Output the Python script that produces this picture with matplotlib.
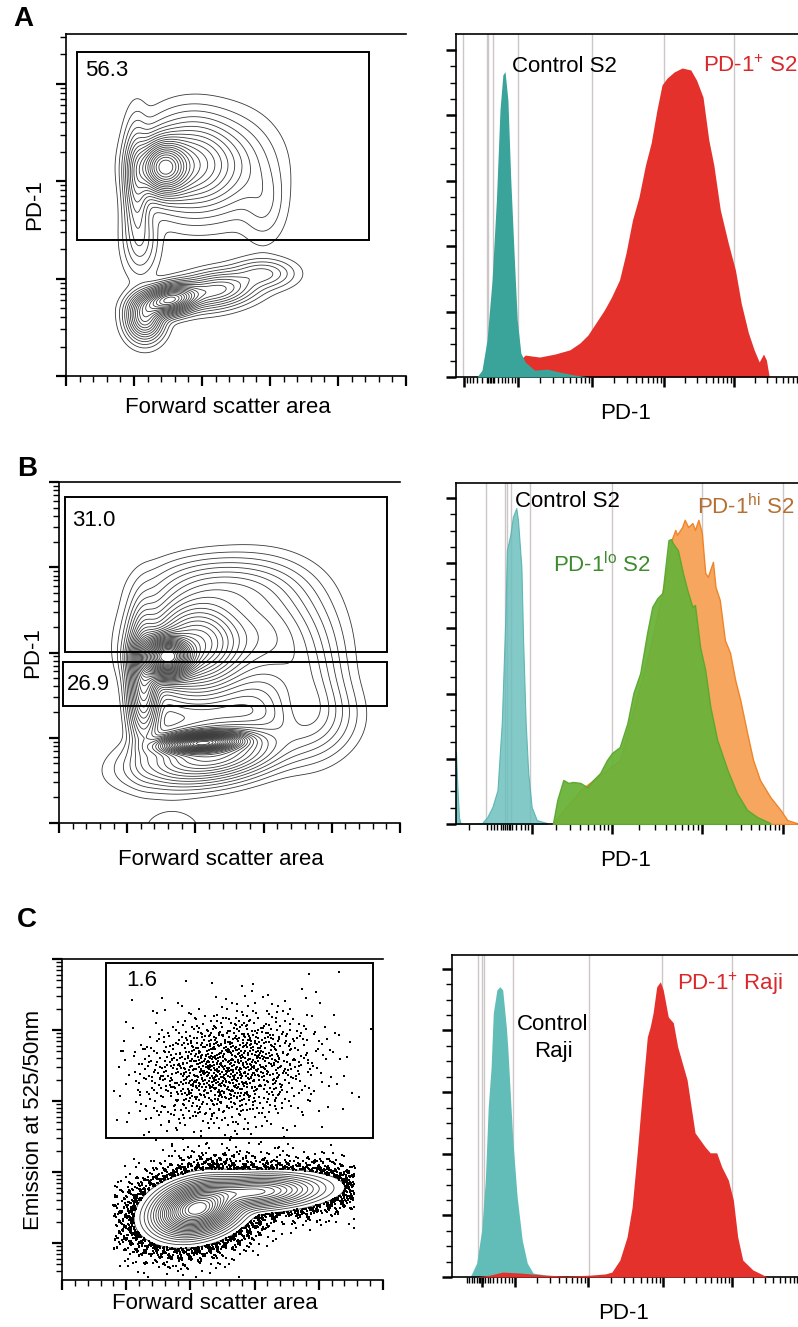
import numpy as np
import matplotlib
matplotlib.use("Agg")
import matplotlib.pyplot as plt
from matplotlib.patches import Rectangle
from matplotlib.ticker import FixedLocator, NullFormatter

plt.rcParams['font.family'] = ['Liberation Sans', 'DejaVu Sans']
plt.rcParams['mathtext.fontset'] = 'custom'
plt.rcParams['mathtext.rm'] = 'Liberation Sans'
plt.rcParams['mathtext.it'] = 'Liberation Sans:italic'
plt.rcParams['mathtext.bf'] = 'Liberation Sans:bold'

# ---------------- histogram data: x = PD-1 (log decades), y = % of max ----------------
a_ctrl_x = [1.43, 1.50, 1.57, 1.64, 1.70, 1.75, 1.79, 1.82, 1.86, 1.90, 1.95, 1.99, 2.04, 2.10,
            2.23, 2.41, 2.58, 2.79, 2.99]
a_ctrl_y = [0, 2.1, 11.3, 29.7, 54.1, 81.7, 92.4, 93.4, 84.7, 60.2, 35.8, 17.4, 7.3, 4.6,
            2.1, 2.4, 1.5, 0.6, 0]
a_pos_x = [2.00, 2.03, 2.10, 2.30, 2.51, 2.72, 2.86, 2.97, 3.09, 3.20, 3.30, 3.41, 3.50, 3.59,
           3.68, 3.77, 3.85, 3.93, 4.00, 4.07, 4.17, 4.28, 4.40, 4.48, 4.57, 4.65, 4.72, 4.81,
           4.92, 5.02, 5.10, 5.20, 5.28, 5.35, 5.41, 5.45, 5.49]
a_pos_y = [0, 5.2, 6.7, 6.1, 7.0, 8.3, 10.4, 12.8, 16.8, 20.5, 24.5, 29.7, 37.9, 48.0,
           55.0, 64.8, 71.6, 81.7, 89.3, 91.4, 93.3, 94.5, 93.9, 90.8, 85.6, 72.5, 64.8, 51.1,
           41.0, 32.7, 22.6, 13.5, 8.3, 4.6, 7.0, 5.2, 0]

b_ctrl_x = [1.175, 1.19, 1.21, 1.23, 1.48, 1.54, 1.60, 1.66, 1.71, 1.75, 1.77, 1.81, 1.84, 1.88,
            1.90, 1.94, 1.96, 1.99, 2.02, 2.06, 2.12, 2.24]
b_ctrl_y = [22.1, 12.0, 2.0, 0, 0.3, 2.1, 5.2, 10.4, 31.0, 61.7, 84.0, 88.7, 94.2, 96.9,
            93.3, 78.8, 56.4, 31.0, 15.6, 5.2, 1.2, 0.3]
b_lo_x = [2.31, 2.36, 2.43, 2.49, 2.54, 2.63, 2.71, 2.78, 2.86, 2.94, 3.00, 3.09, 3.18, 3.25,
          3.33, 3.41, 3.47, 3.53, 3.59, 3.62, 3.66, 3.69, 3.71, 3.77, 3.83, 3.88, 3.94, 3.97,
          4.03, 4.09, 4.15, 4.23, 4.35, 4.46, 4.58, 4.70, 4.85]
b_lo_y = [0.3, 7.4, 13.5, 12.6, 12.9, 12.6, 11.3, 13.5, 15.6, 19.6, 21.8, 23.6, 31.0, 40.2,
          46.3, 58.6, 66.6, 69.3, 70.9, 77.9, 87.1, 87.4, 86.2, 84.0, 76.9, 71.8, 66.6, 67.2,
          54.3, 47.2, 35.9, 25.8, 16.6, 9.5, 4.3, 2.1, 0.3]
b_hi_x = [2.31, 2.63, 3.09, 3.44, 3.62, 3.70, 3.74, 3.76, 3.82, 3.85, 3.89, 3.94, 3.97, 4.01,
          4.05, 4.09, 4.12, 4.18, 4.21, 4.26, 4.32, 4.38, 4.44, 4.50, 4.58, 4.65, 4.73, 4.85,
          4.97, 5.05, 5.16]
b_hi_y = [0.3, 10.4, 19.6, 53.4, 74.8, 87.4, 90.2, 88.7, 91.1, 93.3, 91.1, 92.3, 90.2, 93.3,
          89.3, 77.0, 75.8, 80.4, 72.7, 68.7, 56.4, 52.5, 44.2, 38.0, 27.9, 19.6, 13.5, 8.3,
          4.3, 1.2, 0.3]

c_ctrl_x = [1.38, 1.47, 1.54, 1.59, 1.63, 1.67, 1.70, 1.75, 1.79, 1.83, 1.88, 1.90, 1.93, 1.97,
            2.03, 2.10, 2.17, 2.25, 2.44, 2.72]
c_ctrl_y = [0, 4.5, 15.3, 31.5, 55.2, 68.2, 85.7, 93.2, 94.2, 93.2, 81.2, 74.7, 61.7, 44.5,
            26.0, 12.0, 4.5, 1.3, 0.6, 0.3]
c_pos_x = [1.45, 1.65, 1.83, 2.07, 2.42, 2.72, 3.04, 3.25, 3.34, 3.45, 3.55, 3.62, 3.69, 3.76,
           3.83, 3.87, 3.91, 3.96, 4.01, 4.05, 4.12, 4.19, 4.25, 4.38, 4.49, 4.56, 4.63, 4.70,
           4.79, 4.86, 4.95, 5.02, 5.08, 5.15, 5.29, 5.49]
c_pos_y = [0, 0.6, 1.6, 1.3, 0.6, 0.3, 0.6, 1.0, 1.6, 5.5, 13.0, 22.7, 40.3, 59.7,
           77.9, 81.2, 85.7, 94.2, 95.8, 93.2, 84.4, 82.5, 74.7, 64.0, 46.8, 44.5, 42.2, 40.3,
           40.3, 35.7, 31.5, 25.0, 13.0, 5.5, 2.3, 0]

# tick / gridline positions of the histogram x axes (log decades)
a_major = [1.25, 2.0, 3.03, 4.03, 5.0]
a_logicle = [1.29, 1.33, 1.37, 1.43, 1.50, 1.57, 1.59, 1.61, 1.63, 1.65, 1.67, 1.72, 1.78,
             1.82, 1.86, 1.92, 1.96]
a_grid = [1.24, 1.57, 1.58, 1.65, 2.0, 3.03, 4.03, 5.0]
b_major = [2.06, 3.0, 4.05, 5.0]
b_logicle = [1.33, 1.54, 1.58, 1.62, 1.66, 1.70, 1.73, 1.75, 1.77, 1.79, 1.81, 1.83, 1.88,
             1.93, 1.98, 2.02]
b_grid = [1.53, 1.75, 1.77, 1.82, 2.04, 3.0, 4.05, 5.0]
c_major = [1.54, 2.0, 3.01, 4.05, 5.0]
c_logicle = [1.33, 1.37, 1.41, 1.44, 1.47, 1.50, 1.52, 1.56, 1.58, 1.62, 1.66, 1.70, 1.75,
             1.80, 1.86, 1.92, 1.96]
c_grid = [1.49, 1.54, 1.57, 1.97, 3.02, 4.03, 5.0]

# ---------------- 2D density models ----------------
# (FSC centre [K], log10 signal centre, FSC sd [K], log sd, correlation, weight)
a_pops = [(72, 4.14, 10, 0.15, 0.0, 1.0), (92, 4.17, 17, 0.24, 0.0, 0.35),
          (120, 4.15, 18, 0.26, 0.0, 0.08), (145, 3.78, 9, 0.22, 0.0, 0.03),
          (52, 4.00, 5, 0.30, 0.0, 0.2), (55, 3.40, 7, 0.20, 0.0, 0.06),
          (76, 2.78, 11, 0.08, 0.3, 1.0), (58, 2.60, 7, 0.12, 0.0, 0.4),
          (110, 2.88, 16, 0.10, 0.3, 0.25), (145, 3.05, 12, 0.08, 0.0, 0.08)]
b_pops = [(79, 3.95, 10, 0.13, 0.0, 1.0), (100, 4.10, 20, 0.30, 0.0, 0.3),
          (150, 4.20, 24, 0.38, 0.0, 0.08), (180, 3.60, 16, 0.40, 0.0, 0.04),
          (120, 4.75, 28, 0.20, 0.0, 0.05), (62, 3.70, 6, 0.40, 0.0, 0.2),
          (105, 2.94, 15, 0.06, 0.25, 0.8), (112, 2.80, 28, 0.18, 0.35, 0.18),
          (185, 3.25, 18, 0.25, 0.0, 0.03), (83, 1.93, 15, 0.16, 0.0, 0.0062)]
c_pops = [(105, 2.48, 15, 0.17, 0.25, 1.0), (150, 2.72, 24, 0.11, 0.2, 0.35)]
c_bright = [(128, 4.46, 36, 0.42, 0.15, 1.0)]

# gates: (FSC from, FSC to, log10 low, log10 high), label, label pos (axes fraction)
a_gates = [((8, 223, 3.395, 5.323), '56.3', (0.056, 0.877))]
b_gates = [((4.4, 240.5, 4.006, 5.824), '31.0', (0.038, 0.871)),
           ((2.9, 240.5, 3.372, 3.889), '26.9', (0.023, 0.390))]
c_gates = [((34.3, 242.2, 3.475, 5.947), '1.6', (0.199, 0.916))]

FS = 16
W, H = 798, 1327
fig = plt.figure(figsize=(W / 100, H / 100), dpi=100)


def px_axes(l, t, r, b):
    return fig.add_axes([l / W, 1 - b / H, (r - l) / W, (b - t) / H])


def mixture(X, YL, pops):
    Z = np.zeros_like(X)
    for cx, cy, sx, sy, rho, w in pops:
        dx = (X - cx) / sx
        dy = (YL - cy) / sy
        Z += w * np.exp(-0.5 * (dx ** 2 - 2 * rho * dx * dy + dy ** 2) / (1 - rho ** 2))
    return Z


def halton(n, base, start=1):
    out = np.zeros(n)
    for i in range(n):
        f, r, k = 1.0, 0.0, i + start
        while k > 0:
            f /= base
            r += f * (k % base)
            k //= base
        out[i] = r
    return out


def dot_axes(ax, ylo, yhi, ylabel, xlab_y, ylab_x):
    ax.set_xlim(0, 250)
    ax.set_yscale('log')
    ax.set_ylim(10 ** ylo, 10 ** yhi)
    ax.xaxis.set_major_locator(FixedLocator(np.arange(0, 251, 50)))
    ax.xaxis.set_minor_locator(FixedLocator(np.arange(0, 251, 10)))
    ax.yaxis.set_minor_formatter(NullFormatter())
    ax.tick_params(which='major', length=7, width=1.6, labelleft=False, labelbottom=False)
    ax.tick_params(which='minor', length=4, width=1.0)
    ax.spines['right'].set_visible(False)
    for s in ['left', 'bottom', 'top']:
        ax.spines[s].set_linewidth(1.2)
    ax.text(0.476, xlab_y, 'Forward scatter area', transform=ax.transAxes, ha='center',
            va='center', fontsize=FS)
    ax.text(ylab_x, 0.5, ylabel, transform=ax.transAxes, ha='center', va='center',
            rotation=90, fontsize=FS)


def contours(ax, pops, ylo, yhi, n, t0):
    xs = np.linspace(0, 250, 600)
    yls = np.linspace(ylo, yhi, 600)
    X, YL = np.meshgrid(xs, yls)
    Z = mixture(X, YL, pops)
    levels = Z.max() * np.linspace(t0, 0.95, n) ** 2
    ax.contour(X, 10 ** YL, Z, levels=levels, colors='#383838', linewidths=0.6)
    return Z.max() * t0 ** 2


def gates(ax, gate_list):
    for (x0, x1, y0, y1), label, (tx, ty) in gate_list:
        ax.add_patch(Rectangle((x0, 10 ** y0), x1 - x0, 10 ** y1 - 10 ** y0, fill=False,
                               ec='black', lw=1.4, zorder=5))
        ax.text(tx, ty, label, transform=ax.transAxes, fontsize=FS, va='baseline', zorder=6)


def hist_axes(ax, xlim, majors, logicle, grid, ytop, xlab_y):
    ax.set_xlim(*xlim)
    ax.set_ylim(0, ytop)
    for g in grid:
        ax.axvline(g, color='#cdc6c6', lw=1.0, zorder=1)
    minors = list(logicle)
    steps = majors[1:] + [majors[-1] + (majors[-1] - majors[-2])]
    for m0, m1 in zip(majors, steps):
        if m0 < 1.9:
            continue
        minors += [m0 + np.log10(k) * (m1 - m0) for k in range(2, 10)]
    ax.xaxis.set_major_locator(FixedLocator(majors))
    ax.xaxis.set_minor_locator(FixedLocator([m for m in minors if m < xlim[1]]))
    ax.yaxis.set_major_locator(FixedLocator([0, 20, 40, 60, 80, 100]))
    ax.yaxis.set_minor_locator(FixedLocator(np.arange(5, 100, 5)))
    ax.tick_params(which='major', length=7, width=1.8, labelleft=False, labelbottom=False)
    ax.tick_params(which='minor', length=4, width=1.0)
    ax.spines['right'].set_visible(False)
    for s in ['left', 'bottom', 'top']:
        ax.spines[s].set_linewidth(1.2)
    ax.text(0.495, xlab_y, 'PD-1', transform=ax.transAxes, ha='center', va='center',
            fontsize=FS)


# ---------------- A ----------------
ax = px_axes(66, 34, 406, 376)
dot_axes(ax, 2.0, 5.508, 'PD-1', -0.091, -0.091)
contours(ax, a_pops, 2.0, 5.508, 20, 0.06)
gates(ax, a_gates)

ax = px_axes(456, 34, 798, 377)
hist_axes(ax, (1.139, 5.889), a_major, a_logicle, a_grid, 104.9, -0.105)
ax.fill_between(a_pos_x, 0, a_pos_y, color='#e5312b', lw=0, zorder=2)
ax.fill_between(a_ctrl_x, 0, a_ctrl_y, color='#3aa39a', lw=0, zorder=3)
ax.text(1.917, 93.3, 'Control S2', fontsize=FS, va='baseline')
ax.text(4.569, 93.3, r'PD-1$^{+}$ S2', fontsize=FS, va='baseline', color='#d9272a')

# ---------------- B ----------------
ax = px_axes(59, 482, 400, 823)
dot_axes(ax, 2.0, 6.0, 'PD-1', -0.106, -0.076)
contours(ax, b_pops, 2.0, 6.0, 34, 0.05)
gates(ax, b_gates)

ax = px_axes(456, 483, 798, 824)
hist_axes(ax, (1.175, 5.175), b_major, b_logicle, b_grid, 104.6, -0.108)
ax.fill_between(b_ctrl_x, 0, b_ctrl_y, facecolor='#6cc0bd', edgecolor='#4fb0ad', lw=0.8,
                alpha=0.85, zorder=2)
ax.fill_between(b_hi_x, 0, b_hi_y, facecolor='#f6a65f', edgecolor='#f08428', lw=1.0, zorder=3)
ax.fill_between(b_lo_x, 0, b_lo_y, facecolor='#6ab23a', edgecolor='#5aa82e', lw=1.0,
                alpha=0.95, zorder=4)
ax.text(1.865, 97.2, 'Control S2', fontsize=FS, va='baseline')
ax.text(3.994, 95.1, r'PD-1$^{\mathrm{hi}}$ S2', fontsize=FS, va='baseline', color='#b56f33')
ax.text(2.31, 77.3, r'PD-1$^{\mathrm{lo}}$ S2', fontsize=FS, va='baseline', color='#3e8b2e')

# ---------------- C ----------------
ax = px_axes(62, 959, 383, 1280)
dot_axes(ax, 1.48, 6.0, 'Emission at 525/50nm', -0.072, -0.090)
outer = contours(ax, c_pops, 1.48, 6.0, 22, 0.07)
# events outside the outer contour, thinned deterministically by the density model
n_hi = 7000
hx = 40 + 205 * halton(n_hi, 2)
hy = 3.2 + 2.75 * halton(n_hi, 3)
keep = halton(n_hi, 5) < mixture(hx, hy, c_bright)
ax.scatter(hx[keep], 10 ** hy[keep], s=1.3, marker='s', lw=0, color='black', zorder=3)
n_lo = 13000
lx = 40 + 188 * halton(n_lo, 7, 50)
ly = 1.48 + 2.05 * halton(n_lo, 11, 50)
f = mixture(lx, ly, c_pops)
keep = (f < outer) & (halton(n_lo, 13, 50) < (f / outer) ** 0.36)
ax.scatter(lx[keep], 10 ** ly[keep], s=1.3, marker='s', lw=0, color='black', zorder=3)
gates(ax, c_gates)

ax = px_axes(452, 955, 798, 1277)
hist_axes(ax, (1.129, 5.914), c_major, c_logicle, c_grid, 104.5, -0.112)
ax.fill_between(c_ctrl_x, 0, c_ctrl_y, color='#62bdb8', lw=0, zorder=2)
ax.fill_between(c_pos_x, 0, c_pos_y, color='#e5312b', lw=0, zorder=3)
ax.text(2.526, 80.2, 'Control', fontsize=FS, va='baseline', ha='center')
ax.text(2.526, 71.4, 'Raji', fontsize=FS, va='baseline', ha='center')
ax.text(4.241, 93.2, r'PD-1$^{+}$ Raji', fontsize=FS, va='baseline', color='#d9272a')

# panel letters
for letter, (x, y) in zip('ABC', [(23, 19), (27, 469), (27, 920)]):
    fig.text(x / W, 1 - y / H, letter, fontsize=20, fontweight='bold', ha='center', va='center')

fig.savefig('out.png', dpi=100)
